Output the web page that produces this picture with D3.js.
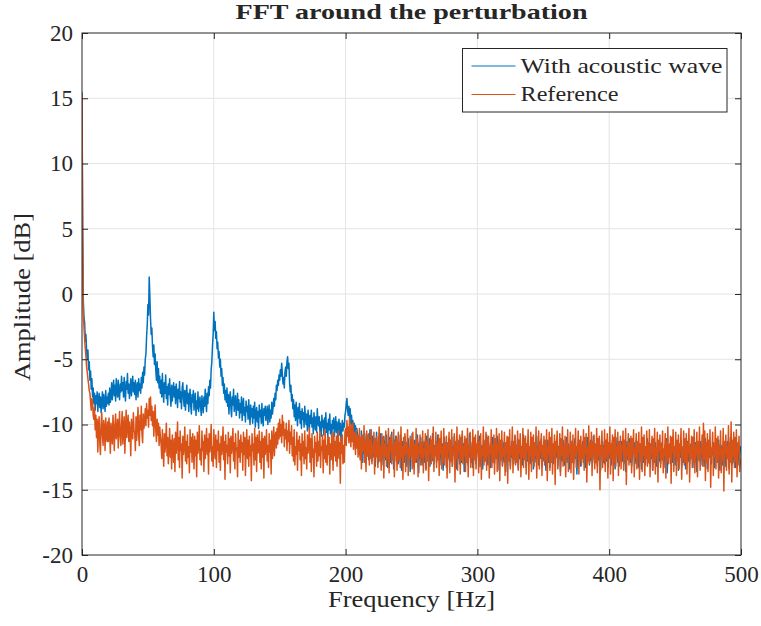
<!DOCTYPE html>
<html><head><meta charset="utf-8">
<script src="https://cdn.jsdelivr.net/npm/d3@7"></script>
<style>body{margin:0;background:#fff}svg{display:block}text{font-family:"Liberation Serif","DejaVu Serif",serif;fill:#262626}</style>
</head><body>
<svg id="c" width="761" height="626"></svg>
<script>
const title = "FFT around the perturbation";
const xLabel = "Frequency [Hz]";
const yLabel = "Amplitude [dB]";
const seriesNames = ["With acoustic wave", "Reference"];
const xTicks = [0, 100, 200, 300, 400, 500];
const yTicks = [-20, -15, -10, -5, 0, 5, 10, 15, 20];
const freqStep = 0.5; // Hz per sample, starting at 0 Hz

const withWave = [
15.5,5.2,-0.5,-1.8,-2.2,-3.6,-3.1,-4.4,-5.0,-4.3,-5.8,-5.2,-6.6,-5.9,-7.3,-6.5,-7.9,-7.2,-8.4,-7.6,
-8.9,-7.8,-8.4,-7.5,-9.0,-8.1,-7.6,-8.7,-7.9,-9.1,-8.2,-7.5,-8.8,-7.7,-8.3,-9.0,-7.4,-8.6,-7.9,-8.4,
-7.6,-8.5,-7.2,-8.3,-7.9,-6.8,-8.1,-7.3,-6.6,-7.8,-7.0,-8.2,-6.5,-7.4,-7.9,-6.6,-7.6,-8.1,-6.9,-7.5,
-6.3,-7.4,-6.8,-7.9,-6.4,-7.6,-8.2,-6.7,-7.3,-6.1,-7.6,-6.9,-8.0,-7.2,-6.5,-7.8,-7.0,-6.3,-7.5,-6.8,
-7.7,-6.6,-8.1,-7.1,-6.8,-7.9,-6.5,-7.4,-6.9,-7.6,-6.4,-7.2,-6.0,-6.8,-5.6,-6.2,-5.0,-4.6,-3.3,-2.4,
-0.8,-1.6,1.3,-0.2,-1.9,-3.1,-2.6,-4.0,-4.8,-3.9,-5.4,-4.6,-5.9,-6.6,-5.2,-6.8,-5.7,-7.2,-6.3,-7.6,
-6.6,-7.9,-6.1,-7.4,-8.3,-6.8,-7.6,-6.2,-8.0,-7.1,-8.5,-6.9,-7.7,-6.5,-7.9,-8.6,-7.0,-8.2,-7.4,-6.8,
-7.9,-7.1,-8.4,-6.9,-7.6,-8.7,-7.3,-8.0,-6.7,-8.3,-7.5,-8.8,-7.2,-6.8,-8.0,-8.6,-7.4,-8.9,-7.8,-7.0,
-8.4,-7.6,-9.0,-7.9,-7.3,-8.6,-9.2,-7.7,-8.3,-7.4,-8.9,-8.1,-7.6,-9.3,-8.2,-8.8,-7.5,-9.0,-8.4,-7.9,
-8.7,-9.3,-7.8,-8.5,-9.1,-7.9,-8.6,-7.3,-8.2,-9.0,-7.6,-8.4,-7.1,-7.8,-6.6,-7.2,-5.8,-5.2,-4.0,-3.1,
-1.4,-2.8,-2.1,-3.4,-2.9,-4.2,-3.7,-4.9,-4.4,-5.6,-5.0,-6.3,-5.7,-7.0,-6.4,-7.6,-6.9,-8.1,-7.4,-8.3,
-7.2,-8.6,-7.7,-9.2,-8.0,-7.5,-8.8,-9.4,-7.9,-8.5,-7.3,-9.0,-8.3,-7.8,-9.3,-8.6,-7.6,-8.9,-8.1,-9.5,
-8.4,-9.1,-7.9,-9.7,-8.5,-8.0,-9.3,-8.7,-9.8,-8.2,-9.0,-8.6,-9.6,-8.1,-9.2,-10.0,-8.5,-9.4,-8.8,-9.9,
-8.6,-9.5,-8.3,-10.2,-9.1,-8.7,-9.8,-9.0,-10.3,-8.5,-9.4,-8.9,-9.9,-8.4,-9.6,-10.1,-8.8,-9.3,-8.6,-9.7,
-9.2,-8.6,-10.0,-9.1,-8.5,-9.8,-8.9,-9.5,-8.3,-9.2,-8.7,-8.0,-8.6,-7.6,-8.1,-7.0,-7.4,-6.6,-7.0,-6.2,
-6.6,-5.8,-6.3,-5.3,-6.1,-6.9,-6.4,-7.2,-6.0,-5.6,-6.3,-5.2,-4.8,-5.7,-5.3,-6.8,-7.5,-7.0,-8.2,-7.7,
-8.8,-8.1,-9.4,-8.5,-9.7,-8.3,-9.2,-10.1,-8.7,-9.5,-8.4,-9.9,-9.0,-10.3,-8.8,-9.6,-9.1,-10.2,-8.6,-9.4,
-10.0,-9.2,-10.5,-8.9,-9.7,-10.4,-9.3,-9.9,-8.9,-10.2,-9.5,-10.7,-9.1,-9.8,-10.4,-9.4,-10.6,-8.8,-9.7,-10.1,
-9.4,-10.5,-9.8,-10.9,-9.3,-10.2,-9.7,-10.8,-9.5,-10.3,-9.1,-10.6,-9.9,-11.0,-9.6,-10.4,-9.2,-10.7,-10.0,-11.2,
-9.7,-10.3,-9.5,-10.9,-10.1,-9.4,-10.6,-9.8,-11.1,-10.2,-9.6,-10.8,-9.9,-11.3,-10.4,-9.7,-10.5,-9.9,-10.2,-9.3,
-9.0,-8.4,-8.0,-8.9,-9.3,-8.6,-9.5,-8.8,-10.0,-9.3,-10.4,-9.7,-10.9,-9.9,-10.6,-10.1,-11.2,-10.3,-10.8,-11.4,
-10.9,-12.3,-11.1,-12.6,-10.5,-11.8,-12.9,-11.0,-12.2,-10.7,-11.6,-13.0,-11.3,-12.4,-10.8,-12.7,-11.5,-10.4,-12.1,-11.2,
-12.8,-10.9,-11.7,-12.5,-11.1,-13.2,-11.8,-10.6,-12.3,-11.4,-12.9,-11.0,-12.2,-10.7,-11.9,-13.1,-11.6,-12.4,-10.9,-12.0,
-11.3,-12.7,-10.8,-12.1,-13.3,-11.5,-12.6,-11.0,-12.9,-11.7,-10.6,-12.4,-11.9,-13.4,-11.2,-12.3,-10.9,-12.8,-11.4,-12.1,
-13.0,-11.6,-12.5,-10.8,-12.2,-13.5,-11.3,-12.0,-11.7,-12.9,-10.9,-12.6,-11.4,-13.2,-12.0,-11.1,-12.7,-11.8,-13.6,-11.5,
-12.3,-10.7,-12.8,-11.9,-13.3,-11.2,-12.5,-11.6,-12.9,-10.8,-12.1,-13.7,-11.4,-12.6,-11.0,-12.4,-13.1,-11.7,-12.2,-11.3,
-12.9,-11.5,-13.4,-10.9,-12.3,-11.8,-12.7,-11.1,-13.2,-12.0,-11.4,-12.8,-10.7,-12.5,-13.0,-11.6,-12.2,-11.3,-12.9,-11.9,
-10.8,-12.6,-11.7,-13.1,-12.0,-11.2,-12.8,-11.5,-13.5,-12.1,-11.0,-12.4,-11.8,-13.3,-11.4,-12.7,-12.2,-11.1,-12.9,-11.6,
-12.5,-11.0,-13.2,-11.7,-12.3,-10.9,-12.8,-11.4,-13.4,-12.1,-11.6,-12.6,-11.2,-13.0,-12.4,-11.8,-12.9,-10.8,-12.2,-11.5,
-13.6,-11.9,-12.4,-11.1,-12.8,-11.6,-13.1,-12.0,-10.7,-12.5,-11.4,-12.9,-11.8,-13.3,-12.2,-11.0,-12.6,-11.5,-13.0,-11.9,
-12.1,-11.3,-12.7,-10.9,-13.2,-11.8,-12.4,-11.6,-13.4,-12.0,-11.2,-12.8,-11.7,-12.3,-10.8,-12.6,-13.1,-11.4,-12.2,-11.9,
-13.3,-11.5,-12.5,-11.0,-12.9,-11.7,-13.0,-12.2,-11.3,-12.6,-10.9,-12.4,-11.8,-13.5,-12.0,-11.6,-12.7,-11.2,-13.1,-12.3,
-11.4,-12.9,-11.9,-13.6,-12.1,-11.5,-12.6,-11.0,-12.8,-11.7,-13.2,-12.2,-11.3,-12.5,-11.8,-13.0,-12.4,-10.9,-12.7,-11.6,
-12.2,-11.1,-13.4,-11.9,-12.6,-11.4,-12.9,-11.7,-13.1,-12.3,-10.8,-12.5,-11.6,-12.0,-13.3,-11.5,-12.8,-11.2,-12.4,-11.8,
-13.0,-12.1,-11.4,-12.7,-11.0,-13.4,-11.9,-12.5,-11.6,-12.9,-10.9,-12.3,-11.7,-13.1,-12.2,-11.5,-12.6,-11.1,-13.2,-12.0,
-11.7,-12.8,-11.3,-12.4,-13.5,-11.8,-12.1,-11.2,-12.9,-11.6,-13.3,-12.3,-11.0,-12.6,-11.9,-13.0,-12.2,-11.4,-12.7,-11.8,
-12.5,-11.1,-13.2,-11.7,-12.3,-11.4,-13.6,-12.0,-11.6,-12.8,-11.2,-12.4,-13.1,-11.8,-12.6,-11.0,-12.9,-12.1,-11.5,-12.3,
-13.4,-11.9,-12.5,-11.3,-12.8,-11.7,-13.0,-12.2,-11.1,-12.6,-11.8,-13.8,-12.0,-11.5,-12.7,-11.4,-12.3,-13.2,-11.6,-12.1,
-11.3,-12.9,-11.8,-12.5,-13.3,-11.6,-12.2,-11.0,-12.7,-11.9,-13.1,-12.4,-11.2,-12.8,-11.5,-12.1,-10.9,-12.6,-13.0,-11.7,
-12.3,-11.4,-13.2,-11.9,-12.7,-11.1,-12.5,-13.5,-11.8,-12.2,-11.3,-12.9,-11.6,-13.0,-12.4,-11.2,-12.8,-11.7,-13.3,-12.0,
-11.5,-12.6,-11.9,-13.1,-12.3,-11.2,-12.7,-11.6,-12.4,-13.4,-11.8,-12.1,-11.0,-12.9,-11.4,-13.2,-12.2,-11.7,-12.6,-11.3,
-12.8,-11.5,-13.0,-12.1,-11.8,-13.6,-12.4,-11.3,-12.7,-11.9,-12.3,-11.1,-12.9,-11.6,-13.2,-12.5,-11.7,-12.2,-11.4,-13.0,
-12.6,-11.2,-12.8,-11.9,-13.3,-12.0,-11.5,-12.7,-11.8,-13.4,-12.2,-11.4,-12.9,-11.6,-12.3,-13.1,-11.9,-12.5,-11.1,-12.8,
-11.7,-13.0,-12.3,-11.5,-12.6,-11.2,-13.5,-12.1,-11.8,-12.9,-11.4,-12.4,-13.2,-11.9,-12.5,-11.3,-12.8,-11.6,-13.0,-12.2,
-11.4,-12.7,-11.9,-13.3,-12.0,-11.6,-12.8,-11.1,-13.7,-12.4,-11.8,-12.2,-11.5,-13.0,-12.6,-11.7,-12.9,-11.3,-12.3,-11.9,
-13.1,-12.2,-11.6,-12.7,-11.4,-13.5,-12.0,-11.8,-12.5,-11.2,-13.2,-12.4,-11.7,-12.9,-11.5,-12.1,-13.4,-11.9,-12.6,-11.3,
-12.8,-11.8,-13.0,-12.3,-11.5,-12.6,-11.1,-13.3,-12.1,-11.7,-12.9,-11.4,-12.4,-13.6,-11.9,-12.2,-11.6,-12.8,-11.3,-13.1,
-12.0,-11.5,-12.7,-11.8,-13.2,-12.4,-11.1,-12.9,-11.6,-13.4,-12.2,-11.7,-12.5,-11.3,-12.8,-13.0,-11.9,-12.3,-11.4,-12.6,
-13.3,-11.8,-12.1,-11.5,-12.9,-12.3,-11.2,-12.7,-13.5,-11.9,-12.4,-11.6,-13.1,-12.0,-11.4,-12.8,-11.7,-13.2,-12.2,-11.3,
-12.6,-11.9,-13.4,-12.1,-11.0,-12.7,-11.6,-13.0,-12.4,-11.8,-12.9,-11.5,-13.3,-12.2,-11.4,-12.6,-11.9,-13.1,-12.5,-11.7,
-12.1];

const reference = [
15.2,4.0,-1.5,-2.5,-3.5,-4.2,-4.8,-5.6,-6.0,-6.5,-6.9,-7.4,-7.6,-8.3,-8.9,-8.0,-8.2,-9.3,-9.6,-8.7,
-10.4,-9.3,-11.0,-9.6,-12.1,-10.2,-9.4,-11.5,-12.3,-10.0,-9.1,-10.8,-11.6,-9.7,-10.3,-12.0,-9.5,-10.9,-11.3,-9.8,
-11.3,-9.5,-10.6,-12.2,-9.9,-10.7,-11.5,-9.3,-10.4,-12.0,-10.1,-9.2,-11.1,-10.5,-9.6,-11.8,-10.3,-9.0,-10.9,-11.6,
-10.1,-9.0,-11.5,-10.4,-9.4,-12.2,-10.6,-8.9,-11.0,-10.0,-9.3,-11.3,-9.8,-10.7,-12.4,-9.6,-10.2,-11.1,-9.1,-10.5,
-10.6,-12.0,-9.4,-11.2,-10.0,-8.7,-10.9,-11.6,-9.3,-10.4,-8.6,-10.7,-11.4,-9.2,-10.3,-9.7,-8.8,-10.1,-8.4,-9.5,
-8.9,-10.2,-8.0,-9.3,-7.9,-9.7,-8.6,-10.1,-9.0,-10.9,-9.4,-8.5,-10.5,-11.3,-9.6,-10.8,-9.9,-11.6,-10.2,-11.0,
-11.5,-12.6,-10.4,-11.9,-13.2,-10.7,-12.1,-11.3,-9.9,-12.4,-11.0,-13.0,-11.6,-10.3,-12.5,-11.2,-13.4,-10.8,-11.7,-12.9,
-11.1,-13.6,-10.6,-12.2,-11.4,-9.8,-12.7,-11.0,-13.3,-10.5,-12.0,-11.5,-14.1,-10.9,-12.3,-11.6,-10.2,-12.8,-11.3,-13.0,
-10.8,-12.5,-11.7,-13.7,-10.4,-12.1,-11.0,-12.9,-10.7,-11.8,-13.4,-10.9,-12.4,-11.2,-14.0,-10.6,-12.2,-11.5,-10.1,-12.7,
-11.9,-13.1,-10.5,-12.0,-11.3,-13.6,-10.8,-12.6,-11.6,-10.3,-12.3,-11.1,-13.8,-10.7,-12.1,-11.4,-10.0,-12.8,-11.7,-13.2,
-10.4,-11.9,-12.6,-10.8,-13.3,-11.2,-12.0,-10.5,-12.9,-11.5,-13.5,-10.9,-12.3,-11.7,-10.2,-12.7,-11.3,-14.2,-10.8,-12.1,
-11.6,-13.0,-10.6,-12.4,-11.1,-13.7,-10.9,-12.2,-11.5,-10.3,-12.8,-11.4,-13.4,-10.7,-12.0,-11.8,-14.0,-10.5,-12.5,-11.2,
-12.9,-10.8,-12.1,-11.4,-13.5,-10.6,-12.3,-11.0,-13.9,-11.7,-10.4,-12.6,-11.2,-13.2,-10.9,-12.4,-11.6,-14.3,-10.7,-12.0,
-11.5,-13.1,-10.3,-12.7,-11.0,-13.6,-10.8,-12.2,-11.9,-10.5,-12.9,-11.3,-13.4,-10.6,-12.5,-11.1,-14.1,-10.9,-12.3,-11.7,
-10.4,-12.8,-11.6,-13.3,-10.7,-12.1,-11.2,-13.8,-10.5,-12.6,-11.4,-10.2,-12.4,-11.0,-10.6,-11.8,-10.3,-11.5,-9.9,-11.1,
-9.6,-10.9,-10.0,-11.4,-9.3,-10.8,-9.8,-11.7,-10.4,-11.1,-9.9,-12.0,-10.5,-11.3,-9.7,-12.2,-10.6,-11.5,-10.1,-12.4,
-11.0,-12.8,-10.4,-13.1,-11.7,-12.3,-10.6,-13.5,-11.2,-12.0,-10.9,-12.7,-11.5,-13.9,-10.7,-12.4,-11.3,-13.0,-10.5,-12.6,
-11.8,-13.4,-10.8,-12.2,-11.5,-10.3,-12.9,-11.1,-13.6,-10.7,-12.5,-11.9,-14.0,-10.9,-12.1,-11.4,-13.2,-10.6,-12.8,-11.3,
-12.4,-10.5,-13.3,-11.7,-12.0,-10.8,-13.7,-11.2,-12.6,-10.4,-12.9,-11.6,-13.1,-10.9,-12.3,-11.0,-13.8,-11.5,-12.7,-10.7,
-11.9,-13.5,-10.6,-12.4,-11.3,-12.8,-10.9,-13.2,-11.7,-10.5,-12.6,-11.4,-14.5,-11.0,-12.2,-10.8,-13.0,-11.6,-12.9,-10.6,
-10.3,-11.6,-9.7,-10.9,-10.2,-11.4,-9.5,-10.8,-11.7,-10.0,-11.3,-9.9,-11.9,-10.6,-11.1,-12.3,-10.4,-11.8,-10.9,-12.5,
-11.4,-10.3,-12.7,-11.0,-13.4,-10.8,-12.1,-11.7,-10.1,-12.9,-11.3,-13.6,-10.5,-12.4,-11.8,-10.7,-13.1,-11.2,-12.6,-10.4,
-13.0,-11.6,-12.2,-10.6,-13.8,-11.1,-12.5,-10.9,-12.0,-13.3,-11.4,-10.2,-12.8,-11.7,-13.5,-10.7,-12.3,-11.0,-14.1,-11.5,
-12.4,-10.5,-13.2,-11.8,-12.6,-10.3,-13.7,-11.2,-12.0,-10.8,-13.0,-11.6,-12.7,-10.4,-14.0,-11.3,-12.2,-10.9,-13.5,-11.9,
-10.6,-12.8,-11.4,-13.3,-10.2,-12.5,-11.7,-14.2,-11.0,-12.3,-10.7,-13.6,-11.5,-12.1,-10.4,-13.9,-11.8,-12.7,-10.9,-12.4,
-11.2,-13.4,-10.6,-12.0,-13.8,-11.5,-12.9,-10.3,-12.6,-11.1,-14.0,-11.7,-12.2,-10.8,-13.1,-11.4,-12.5,-10.5,-13.7,-11.9,
-12.3,-10.7,-13.5,-11.3,-12.8,-10.4,-14.3,-11.6,-12.1,-10.9,-13.0,-11.2,-12.6,-10.2,-13.6,-11.8,-12.4,-10.6,-13.3,-11.5,
-12.7,-10.8,-13.9,-11.1,-12.2,-10.5,-13.4,-11.7,-12.9,-10.3,-13.1,-11.4,-12.5,-10.9,-14.1,-11.6,-12.0,-10.6,-13.7,-11.2,
-12.8,-10.4,-13.2,-11.9,-12.3,-10.7,-14.4,-11.3,-12.6,-10.2,-13.5,-11.5,-12.1,-10.8,-13.8,-11.0,-12.7,-10.5,-13.0,-11.7,
-12.4,-10.9,-13.6,-11.2,-12.9,-10.3,-14.0,-11.6,-12.2,-10.6,-13.3,-11.8,-12.5,-10.4,-13.9,-11.1,-12.7,-10.8,-13.4,-11.5,
-12.1,-10.5,-13.7,-11.3,-12.6,-10.7,-14.2,-11.9,-12.3,-10.2,-13.1,-11.4,-12.8,-10.6,-13.5,-11.0,-12.4,-10.9,-14.1,-11.7,
-12.2,-10.4,-13.3,-11.6,-12.9,-10.8,-13.8,-11.1,-12.5,-10.3,-13.6,-11.5,-12.0,-10.7,-14.3,-11.2,-12.7,-10.5,-13.2,-11.9,
-12.4,-10.6,-13.9,-11.4,-12.1,-10.9,-14.5,-11.0,-12.8,-10.4,-13.4,-11.7,-12.3,-10.2,-13.7,-11.3,-12.6,-10.8,-13.1,-11.6,
-12.9,-10.5,-13.5,-11.2,-12.2,-10.7,-14.0,-11.8,-12.5,-10.3,-13.3,-11.1,-12.7,-10.9,-13.8,-11.5,-12.0,-10.4,-14.2,-11.7,
-12.3,-10.6,-13.6,-11.0,-12.8,-10.8,-13.2,-11.4,-12.4,-10.2,-14.1,-11.9,-12.6,-10.5,-13.4,-11.3,-12.1,-10.7,-13.9,-11.6,
-12.5,-10.9,-13.1,-11.2,-12.7,-10.4,-14.3,-11.7,-12.2,-10.6,-13.5,-11.0,-12.9,-10.3,-13.8,-11.5,-12.4,-10.8,-14.6,-11.3,
-12.0,-10.5,-13.4,-11.8,-12.6,-10.7,-13.9,-11.1,-12.3,-10.2,-13.2,-11.6,-12.8,-10.9,-14.0,-11.4,-12.5,-10.4,-13.6,-11.9,
-12.1,-10.6,-13.7,-11.3,-12.9,-10.8,-14.2,-11.5,-12.4,-10.3,-13.3,-11.7,-12.0,-10.5,-13.8,-11.2,-12.7,-10.9,-13.1,-11.6,
-12.6,-10.4,-13.5,-11.0,-12.2,-10.7,-14.4,-11.8,-12.8,-10.1,-13.0,-11.4,-12.5,-10.6,-13.9,-11.3,-12.3,-10.8,-13.4,-11.5,
-12.9,-10.3,-13.7,-11.1,-12.4,-10.9,-15.0,-11.6,-12.1,-10.5,-13.3,-11.8,-12.7,-10.4,-13.6,-11.2,-12.5,-10.7,-14.1,-11.4,
-12.2,-10.2,-13.8,-11.5,-12.6,-10.8,-14.3,-11.0,-12.9,-10.4,-13.2,-11.7,-12.3,-10.6,-13.9,-11.3,-12.8,-10.9,-13.4,-11.6,
-12.0,-10.5,-13.5,-11.2,-12.7,-10.3,-14.6,-11.8,-12.4,-10.7,-13.1,-11.4,-12.6,-10.9,-13.7,-11.1,-12.2,-10.4,-14.0,-11.9,
-12.5,-10.7,-13.4,-11.3,-12.1,-10.6,-14.2,-11.5,-12.8,-10.2,-13.6,-11.0,-12.3,-10.8,-13.9,-11.7,-12.6,-10.5,-13.2,-11.4,
-12.9,-10.4,-14.0,-11.6,-12.2,-10.9,-13.5,-11.1,-12.7,-10.3,-13.8,-11.8,-12.4,-10.6,-14.4,-11.2,-12.0,-10.8,-13.3,-11.5,
-12.6,-10.5,-13.7,-11.9,-12.3,-10.7,-14.1,-11.3,-12.8,-10.2,-13.0,-11.6,-12.5,-10.9,-14.5,-11.0,-12.1,-10.4,-13.6,-11.7,
-12.4,-10.6,-13.9,-11.2,-12.7,-10.8,-13.4,-11.5,-12.0,-10.3,-14.2,-11.8,-12.6,-10.5,-13.1,-11.1,-12.9,-10.7,-13.8,-11.4,
-12.2,-10.3,-14.4,-11.7,-12.5,-10.9,-13.3,-11.0,-12.8,-10.4,-13.7,-11.6,-12.3,-10.6,-14.0,-11.3,-12.7,-10.2,-13.5,-11.9,
-12.1,-10.8,-13.2,-9.9,-12.6,-10.5,-14.3,-11.4,-12.9,-10.7,-13.6,-11.2,-12.4,-10.4,-14.8,-11.8,-12.0,-10.6,-13.9,-11.5,
-12.5,-10.2,-13.4,-11.1,-12.8,-10.9,-14.1,-11.6,-12.3,-10.5,-13.7,-11.9,-12.7,-10.3,-15.1,-11.3,-12.2,-10.8,-13.5,-11.7,
-12.6,-10.1,-13.8,-11.4,-12.9,-9.8,-14.4,-11.2,-12.4,-10.6,-13.3,-11.0,-12.8,-10.4,-14.0,-11.6,-12.1,-10.9,-13.6,-12.9,
-12.6];

const colors = ["#0072BD", "#D95319"];
const axisColor = "#262626";

const svg = d3.select("#c");
const m = {l: 82, r: 761 - 741, t: 33, b: 626 - 555};
const W = 761 - m.l - m.r, H = 626 - m.t - m.b;
const x = d3.scaleLinear().domain([0, 500]).range([0, W]);
const y = d3.scaleLinear().domain([-20, 20]).range([H, 0]);
const g = svg.append("g").attr("transform", `translate(${m.l},${m.t})`);

// grid
g.append("g").selectAll("line").data(xTicks.slice(1, -1)).join("line")
  .attr("x1", d => x(d)).attr("x2", d => x(d)).attr("y1", 0).attr("y2", H)
  .attr("stroke", "#e3e3e3").attr("stroke-width", 1);
g.append("g").selectAll("line").data(yTicks.slice(1, -1)).join("line")
  .attr("y1", d => y(d)).attr("y2", d => y(d)).attr("x1", 0).attr("x2", W)
  .attr("stroke", "#e3e3e3").attr("stroke-width", 1);

// data
svg.append("clipPath").attr("id", "clp").append("rect").attr("width", W).attr("height", H);
const line = d3.line().x((d, i) => x(i * freqStep)).y(d => y(d));
[withWave, reference].forEach((s, k) => {
  g.append("path").datum(s).attr("d", line).attr("fill", "none")
    .attr("stroke", colors[k]).attr("stroke-width", 1.5).attr("stroke-linejoin", "round")
    .attr("clip-path", "url(#clp)");
});

// axes
const fmt = d => String(d);
function styleAxis(sel) {
  sel.select(".domain").remove();
  sel.selectAll(".tick line").attr("stroke", axisColor);
  sel.selectAll(".tick text").attr("fill", axisColor).style("font-size", "23px")
    .style("font-family", "'Liberation Serif','DejaVu Serif',serif");
}
g.append("g").attr("transform", `translate(0,${H})`)
  .call(d3.axisBottom(x).tickValues(xTicks).tickFormat(fmt).tickSizeInner(-6).tickPadding(11))
  .call(styleAxis);
g.append("g")
  .call(d3.axisLeft(y).tickValues(yTicks).tickFormat(fmt).tickSizeInner(-6).tickPadding(9))
  .call(styleAxis);
g.append("g").call(d3.axisTop(x).tickValues(xTicks).tickFormat("").tickSizeInner(-6)).call(styleAxis);
g.append("g").attr("transform", `translate(${W},0)`)
  .call(d3.axisRight(y).tickValues(yTicks).tickFormat("").tickSizeInner(-6)).call(styleAxis);
g.append("rect").attr("width", W).attr("height", H).attr("fill", "none")
  .attr("stroke", axisColor).attr("stroke-width", 1);

// labels
svg.append("text").attr("x", m.l + W / 2).attr("y", 19).attr("text-anchor", "middle")
  .attr("textLength", 352).attr("lengthAdjust", "spacingAndGlyphs")
  .style("font-size", "21px").style("font-weight", "bold").text(title);
svg.append("text").attr("x", m.l + W / 2).attr("y", 607).attr("text-anchor", "middle")
  .attr("textLength", 167).attr("lengthAdjust", "spacingAndGlyphs")
  .style("font-size", "24px").text(xLabel);
svg.append("text").attr("transform", `translate(30,${m.t + H / 2 + 3}) rotate(-90)`)
  .attr("text-anchor", "middle").attr("textLength", 168).attr("lengthAdjust", "spacingAndGlyphs")
  .style("font-size", "24px").text(yLabel);

// legend
const lg = svg.append("g").attr("transform", "translate(462.5,48.5)");
lg.append("rect").attr("width", 264.5).attr("height", 63.5).attr("fill", "#fff")
  .attr("stroke", axisColor).attr("stroke-width", 1);
const legW = [202, 98];
seriesNames.forEach((n, i) => {
  const yy = 17.5 + i * 28.5;
  lg.append("line").attr("x1", 9).attr("x2", 53).attr("y1", yy).attr("y2", yy)
    .attr("stroke", colors[i]).attr("stroke-width", 1);
  lg.append("text").attr("x", 58).attr("y", yy + 6.5).style("font-size", "22px")
    .attr("textLength", legW[i]).attr("lengthAdjust", "spacingAndGlyphs").text(n);
});
</script>
</body></html>
